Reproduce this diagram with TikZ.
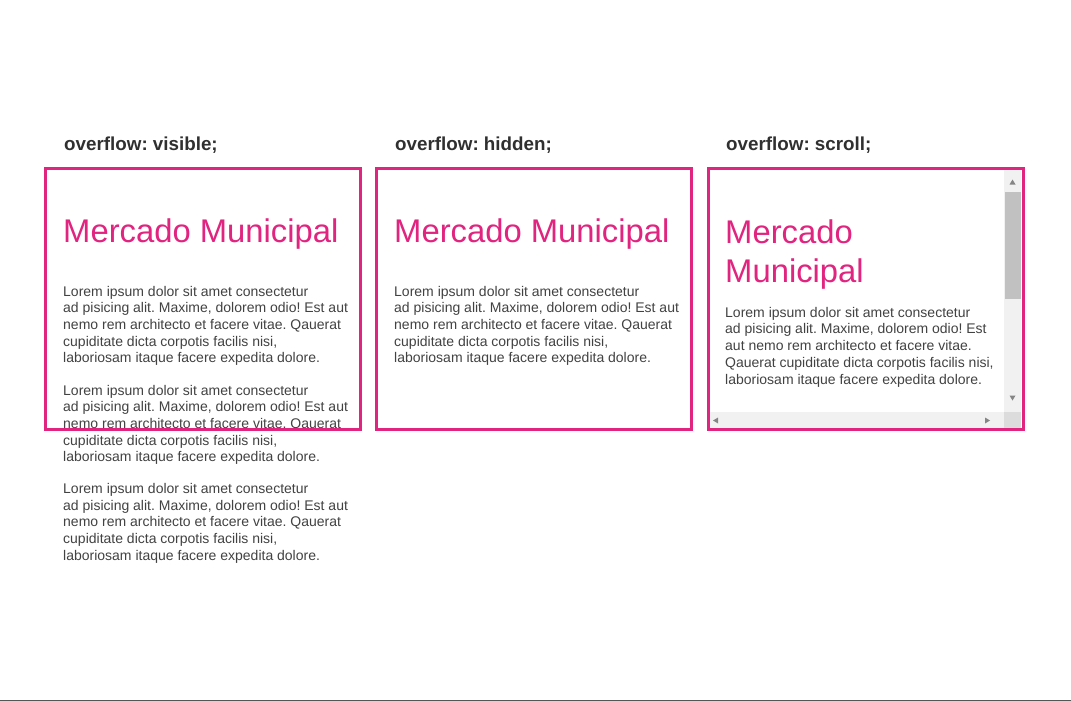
\documentclass[tikz,border=0pt]{standalone}
\usepackage{fontspec}
\setmainfont{Liberation Sans}
\frenchspacing
\definecolor{pinkc}{HTML}{E0247F}
\definecolor{bodyc}{HTML}{424242}
\definecolor{labelc}{HTML}{303030}
\definecolor{trackc}{HTML}{F1F1F1}
\definecolor{thumbc}{HTML}{C1C1C1}
\definecolor{cornerc}{HTML}{DCDCDC}
\definecolor{arrowc}{HTML}{858585}
\definecolor{rulec}{HTML}{555555}
\newcommand{\loremtext}{Lorem ipsum dolor sit amet consectetur\\ad pisicing alit. Maxime, dolorem odio! Est aut\\nemo rem architecto et facere vitae. Qauerat\\cupiditate dicta corpotis facilis nisi,\\laboriosam itaque facere expedita dolore.}
\begin{document}
\begin{tikzpicture}[x=1pt,y=-1pt,
  lbl/.style={anchor=base west, inner sep=0, font=\fontsize{18.8}{22}\selectfont\bfseries, text=labelc},
  ttl/.style={anchor=base west, inner sep=0, align=left, font=\fontsize{32.8}{39}\selectfont, text=pinkc},
  body/.style={anchor=base west, inner sep=0, align=left, font=\fontsize{14}{16.7}\selectfont, text=bodyc},
  frame/.style={draw=pinkc, line width=3pt, outer sep=0, inner sep=0, minimum width=315, minimum height=261, anchor=north west},
  arr/.style={fill=arrowc, draw=none}]
\useasboundingbox (0,0) rectangle (1071,701);
\fill[white] (0,0) rectangle (1071,701);
% labels
\node[lbl] (l1) at (64,150) {overflow: visible;};
\node[lbl] (l2) at (395,150) {overflow: hidden;};
\node[lbl] (l3) at (726,150) {overflow: scroll;};
% box 1 content (base anchor = last line baseline)
\node[ttl] (t1) at (63,242.3) {Mercado Municipal};
\node[body] (p11) at (63,362.8) {\loremtext};
\node[body] (p12) at (63,461.8) {\loremtext};
\node[body] (p13) at (63,560.3) {\loremtext};
% box 2 content
\node[ttl] (t2) at (394,242.3) {Mercado Municipal};
\node[body] (p21) at (394,362.8) {\loremtext};
% box 3 content
\node[ttl] (t3) at (725,282) {Mercado\\Municipal};
\node[body] (p31) at (725,384) {Lorem ipsum dolor sit amet consectetur\\ad pisicing alit. Maxime, dolorem odio! Est\\aut nemo rem architecto et facere vitae.\\Qauerat cupiditate dicta corpotis facilis nisi,\\laboriosam itaque facere expedita dolore.};
% scrollbars
\fill[trackc] (1004,170) rectangle (1021,412);
\fill[trackc] (708,412) rectangle (1004,428.5);
\fill[thumbc] (1004.5,191.5) rectangle (1020.5,298.5);
\fill[cornerc] (1004,412) rectangle (1021,428.5);
\fill[arr] (1012.5,179.5) -- (1015.5,184.5) -- (1009.5,184.5) -- cycle;
\fill[arr] (1012.5,400.5) -- (1015.5,395.5) -- (1009.5,395.5) -- cycle;
\fill[arr] (713,420.5) -- (718,417.5) -- (718,423.5) -- cycle;
\fill[arr] (990,420.5) -- (985,417.5) -- (985,423.5) -- cycle;
% frames
\node[frame] (b1) at (45.5,168.5) {};
\node[frame] (b2) at (376.5,168.5) {};
\node[frame] (b3) at (708,168.5) {};
% bottom rule
\coordinate (r1) at (0,700.3);
\coordinate (r2) at (1071,700.3);
\draw[rulec, line width=1.2pt] (r1) -- (r2);
\end{tikzpicture}
\end{document}
